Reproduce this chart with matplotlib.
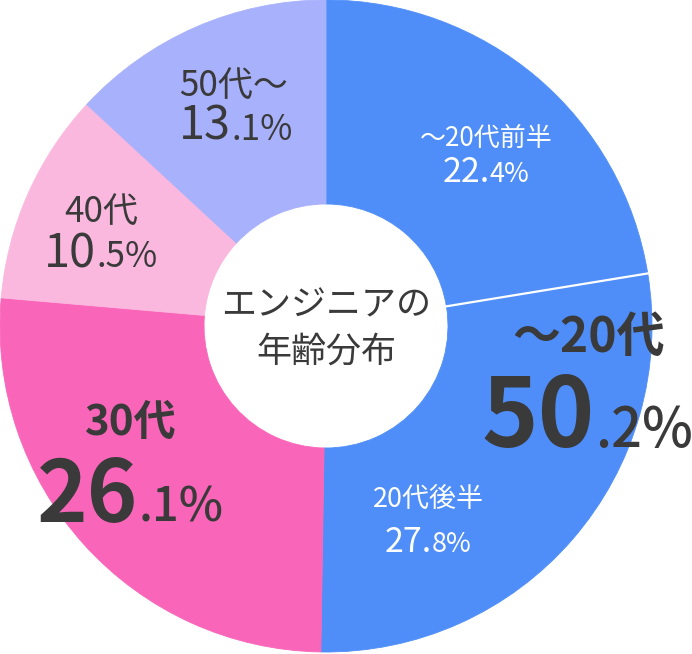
import matplotlib
matplotlib.use("Agg")
import matplotlib.pyplot as plt
import numpy as np

plt.rcParams['font.family'] = ['Noto Sans CJK JP', 'DejaVu Sans']

categories = ["〜20代前半", "20代後半", "30代", "40代", "50代〜"]
values = [22.4, 27.8, 26.1, 10.5, 13.1]
colors = ["#4f8ef8", "#4f8ef8", "#f966b9", "#fbb8df", "#a8b1fc"]
group_label = "〜20代"
group_value = "50.2%"
center_title = "エンジニアの\n年齢分布"

W, H = 692, 654
DPI = 100
fig = plt.figure(figsize=(W / DPI, H / DPI), dpi=DPI)
ax = fig.add_axes([0, 0, 1, 1])

def Y(y):
    return H - y

cx, cy, R, hole = 326, 326, 326, 122
ax.pie(values, colors=colors, startangle=90, counterclock=False,
       center=(cx, Y(cy)), radius=R, frame=True,
       wedgeprops=dict(width=R - hole, linewidth=0.6))
for w, c in zip(ax.patches, colors):
    w.set_edgecolor(c)
ax.set_xlim(0, W)
ax.set_ylim(0, H)
ax.axis('off')

# separator between the two 20s wedges
ang = np.deg2rad(90 - 360 * values[0] / sum(values))
ax.plot([cx + (hole - 1) * np.cos(ang), cx + (R + 1) * np.cos(ang)],
        [Y(cy) + (hole - 1) * np.sin(ang), Y(cy) + (R + 1) * np.sin(ang)],
        color="white", lw=1.6, solid_capstyle='butt')

fig.canvas.draw()
renderer = fig.canvas.get_renderer()

def run_text(xc, ybase, pieces, color):
    ts = []
    for s, px, wt in pieces:
        t = ax.text(0, Y(ybase), s, fontsize=px * 0.72, fontweight=wt,
                    va='baseline', ha='left', color=color)
        ts.append(t)
    widths = [t.get_window_extent(renderer).width for t in ts]
    total = sum(widths)
    x = xc - total / 2
    for t, w in zip(ts, widths):
        t.set_x(x)
        x += w

dark = "#3a3a3a"
white = "white"

run_text(486, 146, [(categories[0], 26, 'normal')], white)
run_text(486, 182, [("22.", 34, 'normal'), ("4%", 27, 'normal')], white)
run_text(428, 507, [(categories[1], 27, 'normal')], white)
run_text(428, 552, [("27.", 34, 'normal'), ("8%", 27, 'normal')], white)

run_text(234, 96, [(categories[4], 35, 'normal')], dark)
run_text(236, 140, [("13", 47, 'normal'), (".1%", 35, 'normal')], dark)
run_text(101, 222, [(categories[3], 35, 'normal')], dark)
run_text(101, 267, [("10", 47, 'normal'), (".5%", 35, 'normal')], dark)

run_text(131, 435, [(categories[2], 42, 'bold')], dark)
run_text(130, 522, [("26", 86, 'bold'), (".1%", 47, 'medium')], dark)

run_text(589, 352, [(group_label, 48, 'bold')], dark)
run_text(587, 447, [("50", 96, 'bold'), (".2%", 54, 'medium')], dark)

l1, l2 = center_title.split("\n")
run_text(326, 315, [(l1, 35, 'normal')], dark)
run_text(326, 362, [(l2, 35, 'normal')], dark)

fig.savefig("out.png", dpi=DPI, facecolor="white")
